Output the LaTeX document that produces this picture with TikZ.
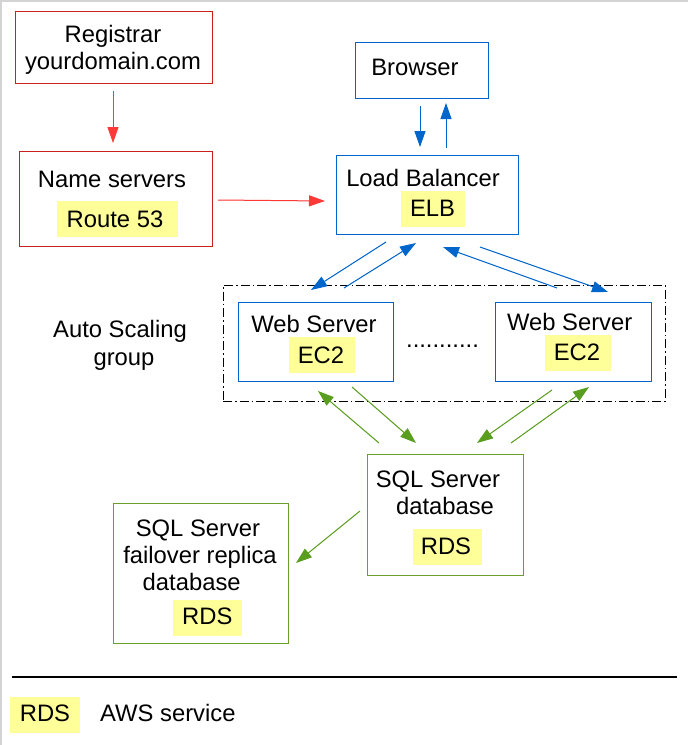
\documentclass[tikz,border=0pt]{standalone}
\usepackage{fontspec}
\setmainfont{Liberation Sans}
\usetikzlibrary{arrows.meta}
\definecolor{boxred}{HTML}{C9211E}
\definecolor{arrred}{HTML}{FF3838}
\definecolor{awsblue}{HTML}{0066CC}
\definecolor{boxgreen}{HTML}{6A9F2D}
\definecolor{arrgreen}{HTML}{5A9E1F}
\definecolor{hlyellow}{HTML}{FFFF99}
\definecolor{edgegray}{HTML}{D4D4D4}
\begin{document}
\begin{tikzpicture}[x=1pt,y=-1pt,
  box/.style={draw, line width=1pt, inner sep=0pt},
  redbox/.style={box, draw=boxred},
  bluebox/.style={box, draw=awsblue},
  greenbox/.style={box, draw=boxgreen},
  hl/.style={fill=hlyellow, inner sep=0pt},
  txt/.style={inner sep=0pt, anchor=base, font=\fontsize{23.8}{27}\selectfont},
  arr/.style={-{Triangle[length=16pt,width=11pt]}, line width=1pt},
  redarr/.style={arr, draw=arrred, fill=arrred},
  bluearr/.style={arr, draw=awsblue, fill=awsblue},
  greenarr/.style={arr, draw=arrgreen, fill=arrgreen}]
\useasboundingbox (0,0) rectangle (688,745);
\fill[white] (0,0) rectangle (688,745);
\draw[edgegray, line width=1.5pt] (0.75,745) -- (0.75,0.75) -- (688,0.75);

% boxes
\node[redbox, minimum width=197pt, minimum height=72pt] (registrar) at (113.5,47) {};
\node[redbox, minimum width=193pt, minimum height=95pt] (names) at (115.5,198.5) {};
\node[bluebox, minimum width=133pt, minimum height=56pt] (browser) at (421.5,70) {};
\node[bluebox, minimum width=182pt, minimum height=79pt] (lb) at (427,194.5) {};
\node[draw, line width=1pt, dash pattern=on 9pt off 3pt on 1.5pt off 3pt, minimum width=442pt, minimum height=116pt, inner sep=0pt] (asg) at (444,343) {};
\node[bluebox, minimum width=155pt, minimum height=79pt] (ws1) at (315.5,341.5) {};
\node[bluebox, minimum width=156pt, minimum height=79pt] (ws2) at (573,341.5) {};
\node[greenbox, minimum width=156pt, minimum height=121pt] (sql) at (445,514.5) {};
\node[greenbox, minimum width=175pt, minimum height=140pt] (fail) at (200.5,573) {};

% highlights
\node[hl, minimum width=121pt, minimum height=36pt] (hlroute) at (117.5,219) {};
\node[hl, minimum width=64pt, minimum height=36pt] (hlelb) at (433,209) {};
\node[hl, minimum width=66pt, minimum height=36pt] (hlec2a) at (322,355) {};
\node[hl, minimum width=66pt, minimum height=36pt] (hlec2b) at (578,353) {};
\node[hl, minimum width=69pt, minimum height=36pt] (hlrdsa) at (447.5,547) {};
\node[hl, minimum width=69pt, minimum height=36pt] (hlrdsb) at (207.5,618) {};
\node[hl, minimum width=70pt, minimum height=36pt] (hlleg) at (45,715) {};

% texts
\node[txt] (t1) at (113,42) {Registrar};
\node[txt] (t2) at (113,69) {yourdomain.com};
\node[txt] (t3) at (112,187) {Name servers};
\node[txt] (t4) at (115,227) {Route 53};
\node[txt] (t5) at (415,75.7) {Browser};
\node[txt] (t6) at (423,186.7) {Load Balancer};
\node[txt] (t7) at (432.5,216.7) {ELB};
\node[txt] (t8) at (314,332.3) {Web Server};
\node[txt] (t9) at (321,363.3) {EC2};
\node[txt] (t10) at (569.7,330) {Web Server};
\node[txt] (t11) at (577,360.7) {EC2};
\node[txt] (t12) at (442.5,347) {...........};
\node[txt] (t13) at (120,337.3) {Auto Scaling};
\node[txt] (t14) at (124,365) {group};
\node[txt] (t15) at (438,487) {SQL Server};
\node[txt] (t16) at (445,514) {database};
\node[txt] (t17) at (446,554) {RDS};
\node[txt] (t18) at (198,536.7) {SQL Server};
\node[txt] (t19) at (200,563.3) {failover replica};
\node[txt] (t20) at (191.7,590) {database};
\node[txt] (t21) at (207.3,624) {RDS};
\node[txt] (t22) at (45,721.7) {RDS};
\node[txt, anchor=base west] (t23) at (100,721.7) {AWS service};

% legend rule
\coordinate (ruleL) at (12,677);
\coordinate (ruleR) at (677,677);
\draw[line width=1.2pt] (ruleL) -- (ruleR);

% arrow end points
\coordinate (r1a) at (113,91);   \coordinate (r1b) at (113,143);
\coordinate (r2a) at (218,200);  \coordinate (r2b) at (325,201);
\coordinate (b1a) at (420,106);  \coordinate (b1b) at (420,147);
\coordinate (b2a) at (446,148);  \coordinate (b2b) at (446,103);
\coordinate (b3a) at (386,242);  \coordinate (b3b) at (311,290);
\coordinate (b4a) at (344,288);  \coordinate (b4b) at (416,243);
\coordinate (b5a) at (557,288);  \coordinate (b5b) at (443,247);
\coordinate (b6a) at (480,247);  \coordinate (b6b) at (608,292);
\coordinate (g1a) at (379,443);  \coordinate (g1b) at (318,391);
\coordinate (g2a) at (352,387);  \coordinate (g2b) at (416,443);
\coordinate (g3a) at (552,390);  \coordinate (g3b) at (477,443);
\coordinate (g4a) at (511,443);  \coordinate (g4b) at (589,387);
\coordinate (g5a) at (360,511);  \coordinate (g5b) at (296,563);

\draw[redarr] (r1a) -- (r1b);
\draw[redarr] (r2a) -- (r2b);
\draw[bluearr] (b1a) -- (b1b);
\draw[bluearr] (b2a) -- (b2b);
\draw[bluearr] (b3a) -- (b3b);
\draw[bluearr] (b4a) -- (b4b);
\draw[bluearr] (b5a) -- (b5b);
\draw[bluearr] (b6a) -- (b6b);
\draw[greenarr] (g1a) -- (g1b);
\draw[greenarr] (g2a) -- (g2b);
\draw[greenarr] (g3a) -- (g3b);
\draw[greenarr] (g4a) -- (g4b);
\draw[greenarr] (g5a) -- (g5b);
\end{tikzpicture}
\end{document}
